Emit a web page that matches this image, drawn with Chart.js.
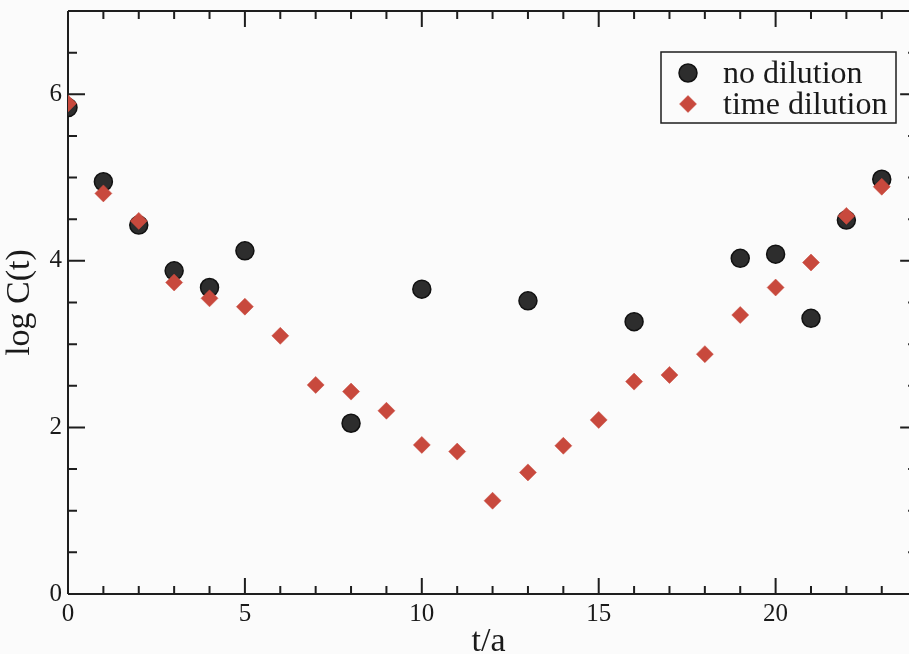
<!DOCTYPE html>
<html>
<head>
<meta charset="utf-8">
<script src="https://cdn.jsdelivr.net/npm/chart.js@4"></script>
<style>
  html, body { margin: 0; padding: 0; background: #fbfbfb; }
  #wrap { width: 909px; height: 654px; }
</style>
</head>
<body>
<div id="wrap"><canvas id="c" width="909" height="654"></canvas></div>
<script>
// ---- data ----
const seriesLabels = ["no dilution", "time dilution"];
const tNoDilution = [0, 1, 2, 3, 4, 5, 8, 10, 13, 16, 19, 20, 21, 22, 23];
const logCNoDilution = [5.84, 4.95, 4.43, 3.88, 3.68, 4.12, 2.05, 3.66, 3.52, 3.27, 4.03, 4.08, 3.31, 4.49, 4.98];
const tTimeDilution = [0, 1, 2, 3, 4, 5, 6, 7, 8, 9, 10, 11, 12, 13, 14, 15, 16, 17, 18, 19, 20, 21, 22, 23];
const logCTimeDilution = [5.89, 4.81, 4.48, 3.74, 3.55, 3.45, 3.10, 2.51, 2.43, 2.20, 1.79, 1.71, 1.12, 1.46, 1.78, 2.09, 2.55, 2.63, 2.88, 3.35, 3.68, 3.98, 4.54, 4.89];
const xTickValues = [0, 5, 10, 15, 20];
const yTickValues = [0, 2, 4, 6];

const AXIS_COLOR = '#1e1e1e';
const FONT = "'Liberation Serif', 'DejaVu Serif', serif";

function pts(xs, ys) { return xs.map((x, i) => ({ x: x, y: ys[i] })); }

const framePlugin = {
  id: 'frame',
  beforeDatasetsDraw(chart) {
    const { ctx, chartArea: a, scales: { x, y } } = chart;
    const rightEdge = x.getPixelForValue(24);
    ctx.save();
    ctx.strokeStyle = AXIS_COLOR;
    ctx.lineWidth = 2;
    ctx.beginPath();
    ctx.moveTo(a.left, a.top); ctx.lineTo(a.left, a.bottom);
    ctx.moveTo(a.left, a.bottom); ctx.lineTo(rightEdge, a.bottom);
    ctx.moveTo(a.left, a.top); ctx.lineTo(rightEdge, a.top);
    ctx.moveTo(rightEdge, a.top); ctx.lineTo(rightEdge, a.bottom);
    for (let v = 1; v <= 24; v += 1) {
      const px = x.getPixelForValue(v);
      const len = (v % 5 === 0) ? 16 : 8;
      ctx.moveTo(px, a.bottom); ctx.lineTo(px, a.bottom - len);
      ctx.moveTo(px, a.top); ctx.lineTo(px, a.top + len);
    }
    for (let v = 0.5; v < 7; v += 0.5) {
      const py = y.getPixelForValue(v);
      const len = (Math.abs(v % 2) < 1e-9) ? 17 : 9;
      ctx.moveTo(a.left, py); ctx.lineTo(a.left + len, py);
      ctx.moveTo(rightEdge, py); ctx.lineTo(rightEdge - len, py);
    }
    ctx.stroke();
    ctx.restore();
  },
  afterDraw(chart) {
    const { ctx } = chart;
    const ds = chart.data.datasets;
    ctx.save();
    ctx.fillStyle = '#fbfbfb';
    ctx.fillRect(661, 52, 235, 71);
    ctx.strokeStyle = AXIS_COLOR;
    ctx.lineWidth = 1.5;
    ctx.strokeRect(661, 52, 235, 71);
    const rows = [73, 104];
    ds.forEach((d, i) => {
      const cy = rows[i];
      const cx = 688;
      ctx.beginPath();
      if (d.pointStyle === 'circle') {
        ctx.arc(cx, cy, d.pointRadius, 0, Math.PI * 2);
      } else {
        const r = d.pointRadius;
        ctx.moveTo(cx - r, cy); ctx.lineTo(cx, cy - r); ctx.lineTo(cx + r, cy); ctx.lineTo(cx, cy + r); ctx.closePath();
      }
      ctx.fillStyle = d.backgroundColor;
      ctx.fill();
      if (d.borderWidth) { ctx.lineWidth = d.borderWidth; ctx.strokeStyle = d.borderColor; ctx.stroke(); }
      ctx.fillStyle = '#1a1a1a';
      ctx.font = "32px " + FONT;
      ctx.textBaseline = 'alphabetic';
      ctx.textAlign = 'left';
      ctx.fillText(d.label, 723, cy + 10);
    });
    ctx.restore();
  }
};

new Chart(document.getElementById('c'), {
  type: 'scatter',
  data: {
    datasets: [
      {
        label: seriesLabels[0],
        data: pts(tNoDilution, logCNoDilution),
        pointStyle: 'circle',
        pointRadius: 9,
        backgroundColor: '#2d2d2d',
        borderColor: '#111111',
        borderWidth: 1.5,
        order: 2
      },
      {
        label: seriesLabels[1],
        data: pts(tTimeDilution, logCTimeDilution),
        pointStyle: 'rectRot',
        pointRadius: 8.5,
        backgroundColor: '#c8493d',
        borderColor: '#c8493d',
        borderWidth: 0.5,
        order: 1
      }
    ]
  },
  options: {
    responsive: false,
    animation: false,
    devicePixelRatio: 1,
    layout: { autoPadding: false, padding: { top: 11, left: 0, right: 0, bottom: 0 } },
    plugins: { legend: { display: false }, tooltip: { enabled: false } },
    scales: {
      x: {
        type: 'linear',
        min: 0,
        max: 23.77,
        afterBuildTicks: (s) => { s.ticks = xTickValues.map(v => ({ value: v })); },
        afterFit: (s) => { s.height = 60; s.paddingLeft = 0; s.paddingRight = 0; },
        ticks: { font: { family: FONT, size: 25 }, color: '#1a1a1a', padding: 5, maxRotation: 0 },
        grid: { display: false, drawTicks: false },
        border: { display: false },
        title: { display: true, text: 't/a', font: { family: FONT, size: 34, lineHeight: 0.7 }, color: '#1a1a1a', padding: { top: 0, bottom: 0 } }
      },
      y: {
        type: 'linear',
        min: 0,
        max: 7,
        afterBuildTicks: (s) => { s.ticks = yTickValues.map(v => ({ value: v })); },
        afterFit: (s) => { s.width = 68; s.paddingTop = 0; s.paddingBottom = 0; },
        ticks: { font: { family: FONT, size: 25 }, color: '#1a1a1a', padding: 6 },
        grid: { display: false, drawTicks: false },
        border: { display: false },
        title: { display: true, text: 'log C(t)', font: { family: FONT, size: 34 }, color: '#1a1a1a', padding: { top: 0, bottom: 0 } }
      }
    }
  },
  plugins: [framePlugin]
});
</script>
</body>
</html>
